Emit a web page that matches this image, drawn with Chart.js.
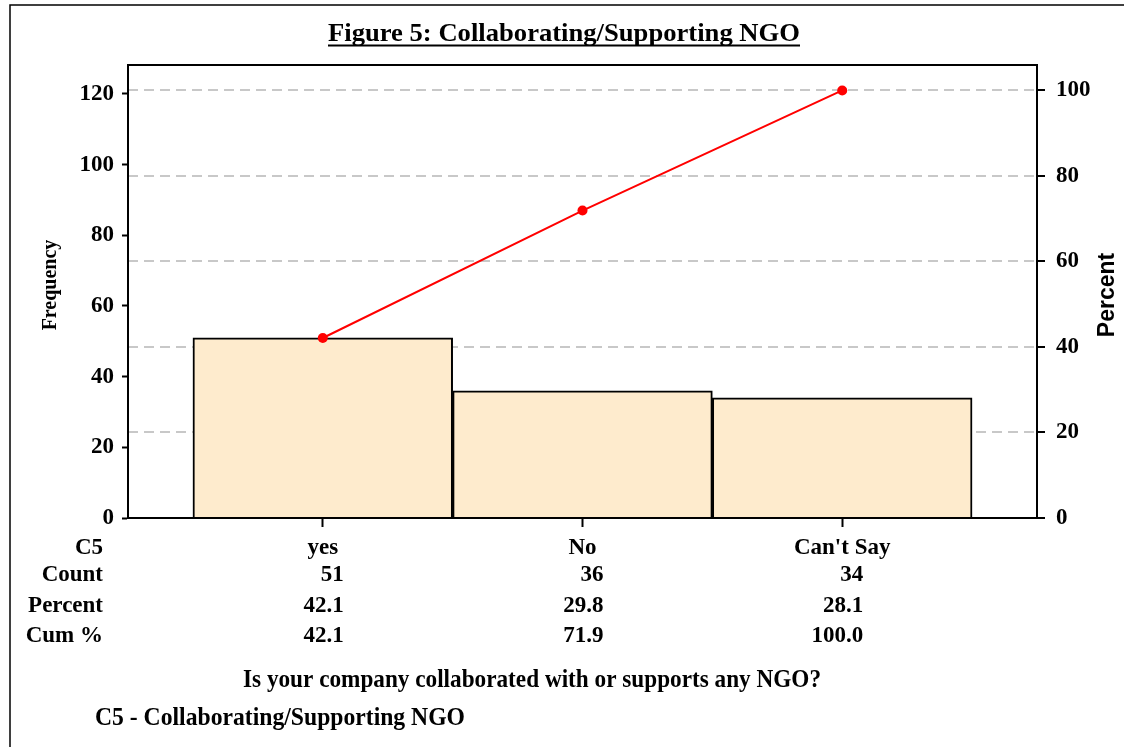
<!DOCTYPE html>
<html>
<head>
<meta charset="utf-8">
<title>Figure 5: Collaborating/Supporting NGO</title>
<script src="https://cdn.jsdelivr.net/npm/chart.js@4"></script>
<style>
  html, body { margin: 0; padding: 0; background: #fff; }
  canvas { display: block; }
</style>
</head>
<body>
<canvas id="pareto" width="1124" height="747"></canvas>
<script>
// data
const categories = ['yes', 'No', "Can't Say"];
const counts = [51, 36, 34];
const percents = ['42.1', '29.8', '28.1'];
const cumPercents = [42.1, 71.9, 100.0];
const freqTicks = [0, 20, 40, 60, 80, 100, 120];
const pctTicks = [0, 20, 40, 60, 80, 100];

const total = counts.reduce((s, v) => s + v, 0);
const freqMax = 128.2;
const pctMax = freqMax * 100 / total;

const SERIF = '"Liberation Serif", "Times New Roman", serif';
const SANS = '"Liberation Sans", Arial, sans-serif';

// draw text squeezed/stretched to a given width
function fitText(ctx, text, x, y, width) {
  const w = ctx.measureText(text).width;
  ctx.save();
  ctx.translate(x, y);
  ctx.scale(width / w, 1);
  ctx.fillText(text, 0, 0);
  ctx.restore();
}

// frame, title, axis titles and the stats table under the plot
const decorations = {
  id: 'decorations',
  afterDraw(chart) {
    const { ctx, chartArea: a } = chart;
    const xs = chart.scales.x;
    ctx.save();

    // outer frame
    ctx.strokeStyle = '#000';
    ctx.lineWidth = 1.5;
    ctx.strokeRect(10, 5, 1200, 800);

    // plot box
    ctx.lineWidth = 2;
    ctx.strokeRect(a.left, a.top, a.right - a.left, a.bottom - a.top);

    // title
    ctx.fillStyle = '#000';
    ctx.font = 'bold 25px ' + SERIF;
    ctx.textBaseline = 'alphabetic';
    ctx.textAlign = 'left';
    fitText(ctx, 'Figure 5: Collaborating/Supporting NGO', 328, 41, 472);
    ctx.fillRect(328, 44.5, 472, 2);

    // axis titles
    ctx.save();
    ctx.translate(56, 285);
    ctx.rotate(-Math.PI / 2);
    ctx.textAlign = 'center';
    ctx.font = 'bold 20px ' + SERIF;
    ctx.fillText('Frequency', 0, 0);
    ctx.restore();

    ctx.save();
    ctx.translate(1114, 295);
    ctx.rotate(-Math.PI / 2);
    ctx.textAlign = 'center';
    ctx.font = 'bold 23px ' + SANS;
    ctx.fillText('Percent', 0, 0);
    ctx.restore();

    // table
    ctx.font = 'bold 23px ' + SERIF;
    const rows = [
      { label: 'C5', y: 554 },
      { label: 'Count', y: 581 },
      { label: 'Percent', y: 612 },
      { label: 'Cum %', y: 642 }
    ];
    ctx.textAlign = 'right';
    rows.forEach(r => ctx.fillText(r.label, 103, r.y));

    categories.forEach((c, i) => {
      const px = xs.getPixelForValue(i);
      ctx.textAlign = 'center';
      ctx.fillText(c, px, rows[0].y);
      ctx.textAlign = 'right';
      ctx.fillText(String(counts[i]), px + 21, rows[1].y);
      ctx.fillText(percents[i], px + 21, rows[2].y);
      ctx.fillText(cumPercents[i].toFixed(1), px + 21, rows[3].y);
    });

    // footers (condensed in the original)
    ctx.textAlign = 'left';
    ctx.font = 'bold 26px ' + SERIF;
    fitText(ctx, 'Is your company collaborated with or supports any NGO?', 243, 687, 578);
    fitText(ctx, 'C5 - Collaborating/Supporting NGO', 95, 725, 370);

    ctx.restore();
  }
};

const barData = categories.map((c, i) => ({ x: i, y: counts[i] }));
const lineData = categories.map((c, i) => ({ x: i, y: cumPercents[i] }));

new Chart(document.getElementById('pareto'), {
  data: {
    datasets: [
      {
        type: 'line',
        data: lineData,
        yAxisID: 'y1',
        borderColor: '#ff0000',
        backgroundColor: '#ff0000',
        borderWidth: 2,
        pointRadius: 5,
        pointBackgroundColor: '#ff0000',
        pointBorderWidth: 0,
        tension: 0,
        order: 0
      },
      {
        type: 'bar',
        data: barData,
        yAxisID: 'y',
        backgroundColor: '#feebcd',
        borderColor: '#000',
        borderWidth: 2,
        barPercentage: 1,
        categoryPercentage: 1,
        order: 1
      }
    ]
  },
  options: {
    responsive: false,
    devicePixelRatio: 1,
    animation: false,
    layout: { padding: { top: 65, left: 0, right: 0, bottom: 0 } },
    plugins: {
      legend: { display: false },
      tooltip: { enabled: false }
    },
    scales: {
      x: {
        type: 'linear',
        min: -0.75,
        max: 2.75,
        offset: false,
        afterBuildTicks: s => { s.ticks = categories.map((c, i) => ({ value: i })); },
        afterFit: s => { s.height = 229; },
        ticks: { display: false },
        grid: { offset: false, drawOnChartArea: false, tickLength: 9, tickWidth: 2, tickColor: '#000' },
        border: { color: '#000', width: 2 }
      },
      y: {
        position: 'left',
        min: 0,
        max: freqMax,
        afterBuildTicks: s => { s.ticks = freqTicks.map(v => ({ value: v })); },
        afterFit: s => { s.width = 128; },
        ticks: {
          color: '#000',
          padding: 8,
          font: { family: SERIF, size: 23, weight: 'bold' }
        },
        grid: { drawOnChartArea: false, tickLength: 6, tickWidth: 2, tickColor: '#000' },
        border: { color: '#000', width: 2 }
      },
      y1: {
        position: 'right',
        min: 0,
        max: pctMax,
        afterBuildTicks: s => { s.ticks = pctTicks.map(v => ({ value: v })); },
        afterFit: s => { s.width = 87; },
        ticks: {
          color: '#000',
          padding: 11,
          font: { family: SERIF, size: 23, weight: 'bold' }
        },
        grid: {
          color: ctx => ctx.tick && ctx.tick.value === 0 ? 'rgba(0,0,0,0)' : '#c8c8c8',
          lineWidth: 2,
          tickLength: 8,
          tickWidth: 2,
          tickColor: '#000'
        },
        border: { color: '#000', width: 2, dash: [10, 6] }
      }
    }
  },
  plugins: [decorations]
});
</script>
</body>
</html>
